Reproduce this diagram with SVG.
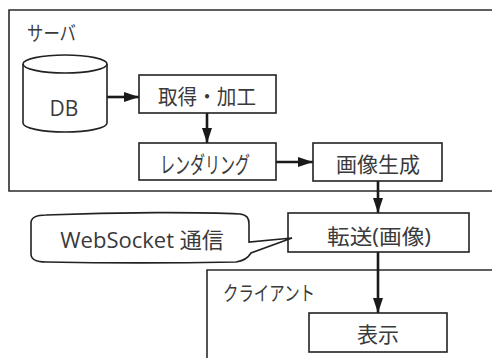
<svg xmlns="http://www.w3.org/2000/svg" width="492" height="358" viewBox="0 0 492 358">
  <style>
    .frame { fill: none; stroke: #2b2b2b; stroke-width: 1.6; }
    .box { fill: #ffffff; stroke: #222222; stroke-width: 1.6; }
    .conn { fill: none; stroke: #1a1a1a; stroke-width: 2.6; }
    .t { font-family: "Open Sans", "Noto Sans CJK JP", sans-serif; fill: #3a3a3a; }
    .lbl { font-size: 20px; }
    .node { font-size: 21px; text-anchor: middle; }
    .kana { font-size: 23px; }
  </style>
  <defs>
    <marker id="head" viewBox="0 0 15 10" refX="15" refY="5" markerWidth="15" markerHeight="10" markerUnits="userSpaceOnUse" orient="auto">
      <path d="M0,0 L15,5 L0,10 Z" fill="#1a1a1a"/>
    </marker>
  </defs>

  <rect x="0" y="0" width="492" height="358" fill="#ffffff"/>

  <!-- server area (open to the right) -->
  <g id="server">
    <path class="frame" d="M492,10 H9 V191 H492"/>
    <text class="t lbl" x="27" y="41" textLength="49" lengthAdjust="spacingAndGlyphs">サーバ</text>
  </g>

  <!-- client area (open to the right and bottom) -->
  <g id="client">
    <path class="frame" d="M492,270 H207 V358"/>
    <text class="t lbl" x="223" y="301" textLength="92" lengthAdjust="spacingAndGlyphs">クライアント</text>
  </g>

  <!-- connectors -->
  <g id="connectors">
    <line class="conn" x1="107" y1="97" x2="139" y2="97" marker-end="url(#head)"/>
    <line class="conn" x1="207" y1="113" x2="207" y2="143" marker-end="url(#head)"/>
    <line class="conn" x1="276" y1="162" x2="313" y2="162" marker-end="url(#head)"/>
    <line class="conn" x1="378" y1="181" x2="378" y2="213" marker-end="url(#head)"/>
    <line class="conn" x1="378" y1="252" x2="378" y2="313" marker-end="url(#head)"/>
  </g>

  <g id="db">
    <path class="box" d="M23,64 V123 A42,9 0 0 0 107,123 V64"/>
    <ellipse class="box" cx="65" cy="64" rx="42" ry="9"/>
    <text class="t node" x="64" y="116" font-size="22">DB</text>
  </g>

  <g id="fetch">
    <rect class="box" x="139" y="75" width="137" height="38"/>
    <text class="t node" x="207" y="104" textLength="98" lengthAdjust="spacingAndGlyphs">取得・加工</text>
  </g>

  <g id="render">
    <rect class="box" x="139" y="143" width="137" height="37"/>
    <text class="t node kana" x="205" y="173" textLength="90" lengthAdjust="spacingAndGlyphs">レンダリング</text>
  </g>

  <g id="image">
    <rect class="box" x="313" y="143" width="129" height="38"/>
    <text class="t node" x="378" y="172">画像生成</text>
  </g>

  <g id="transfer">
    <rect class="box" x="288" y="213" width="181" height="39"/>
    <text class="t node" x="379" y="244" textLength="104" lengthAdjust="spacingAndGlyphs">転送(画像)</text>
  </g>

  <g id="display">
    <rect class="box" x="309" y="313" width="138" height="39"/>
    <text class="t node" x="378" y="342">表示</text>
  </g>

  <!-- speech-balloon note pointing at the transfer step -->
  <g id="websocket-note">
    <path class="box" d="M46,215 C120,212 200,212 240,214 C247,215 249,218 249,224 L249,242 L292,238 L251,253 C248,258 244,261 236,262 C180,263 100,263 46,262 C36,262 31,259 31,254 L31,223 C31,218 36,215 46,215 Z"/>
    <text class="t" x="142" y="248" font-size="22" text-anchor="middle">WebSocket 通信</text>
  </g>
</svg>
